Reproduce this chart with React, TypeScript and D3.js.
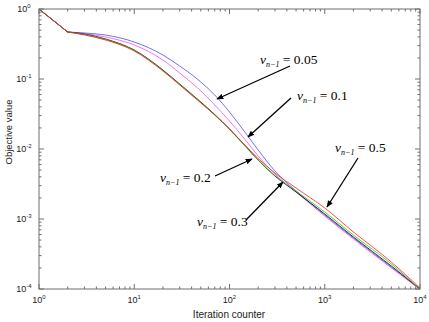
import React from "react";
import * as d3 from "d3";

const iterations = [1, 2, 3, 5, 10, 20, 30, 50, 70, 100, 150, 200, 300, 500, 1000, 2000, 5000, 10000];
const seriesNames = ["0.05", "0.1", "0.2", "0.3", "0.5"];
const seriesColors = ["#4b4bf0", "#f050f0", "#000000", "#1ec81e", "#ff2020"];
const nu005 = [1, 0.4692, 0.4541, 0.425, 0.3377, 0.2202, 0.1533, 0.0906, 0.0591, 0.0338, 0.01638, 0.00968, 0.00485, 0.00251, 0.00114, 0.000535, 0.000206, 0.0001];
const nu01 = [1, 0.4692, 0.4467, 0.3981, 0.3059, 0.1868, 0.1218, 0.0674, 0.0425, 0.0251, 0.013, 0.00794, 0.00439, 0.00243, 0.0011, 0.000518, 0.0002, 0.0000985];
const nu02 = [1, 0.4692, 0.4394, 0.3728, 0.2596, 0.1344, 0.0848, 0.0469, 0.0311, 0.0193, 0.01068, 0.00696, 0.00411, 0.00243, 0.001179, 0.000553, 0.000213, 0.0001];
const nu03 = [1, 0.4692, 0.4322, 0.3667, 0.2554, 0.1322, 0.0834, 0.0462, 0.0306, 0.019, 0.0105, 0.00696, 0.00418, 0.00251, 0.001259, 0.00059, 0.000228, 0.000099];
const nu05 = [1, 0.4692, 0.425, 0.3606, 0.2512, 0.1301, 0.0821, 0.0454, 0.0306, 0.0193, 0.01086, 0.00732, 0.00454, 0.00277, 0.001436, 0.000652, 0.000243, 0.000103];
const seriesValues = [nu005, nu01, nu02, nu03, nu05];
const xTickExps = [0, 1, 2, 3, 4];
const yTickExps = [0, -1, -2, -3, -4];
const annLabels = ["0.05", "0.1", "0.2", "0.3", "0.5"];

const W = 429, H = 322;
const L = 39, R = 420, T = 9, B = 289;

export default function App() {
  const x = d3.scaleLog().domain([1, 1e4]).range([L, R]);
  const y = d3.scaleLog().domain([1e-4, 1]).range([B, T]);
  const axisColor = "#6e6e6e";

  const xMinor: number[] = [];
  const yMinor: number[] = [];
  for (let e = 0; e < 4; e++) for (let k = 2; k <= 9; k++) xMinor.push(k * Math.pow(10, e));
  for (let e = -4; e < 0; e++) for (let k = 2; k <= 9; k++) yMinor.push(k * Math.pow(10, e));

  const lineFn = d3.line<[number, number]>().x(d => x(d[0])).y(d => y(d[1])).curve(d3.curveMonotoneX);
  const straight = d3.line<[number, number]>().x(d => x(d[0])).y(d => y(d[1]));

  const arrows = [
    { from: [290, 66], to: [217, 99] },
    { from: [291, 98], to: [248, 137] },
    { from: [215, 176], to: [252, 159] },
    { from: [246, 220], to: [283, 182] },
    { from: [358, 158], to: [327, 207] },
  ];
  const textPos = [
    [260, 64], [297, 100], [160, 182], [197, 226], [335, 152],
  ];

  return (
    <svg width={W} height={H} style={{ position: "absolute", left: 0, top: 0, background: "#fff" }}
      fontFamily="'Liberation Sans', Arial, sans-serif">
      <rect x={0} y={0} width={W} height={H} fill="#fff" />
      {seriesValues.map((vals, i) => {
        const pts = iterations.map((it, j) => [it, vals[j]] as [number, number]);
        return (
          <g key={seriesNames[i]}>
            <path d={straight(pts.slice(0, 2)) || ""} fill="none" stroke={seriesColors[i]} strokeWidth={0.8} />
            <path d={lineFn(pts.slice(1)) || ""} fill="none" stroke={seriesColors[i]} strokeWidth={0.8} />
          </g>
        );
      })}
      <rect x={L} y={T} width={R - L} height={B - T} fill="none" stroke={axisColor} strokeWidth={1} />
      {xTickExps.map(e => {
        const px = x(Math.pow(10, e));
        return (
          <g key={"xt" + e}>
            <line x1={px} x2={px} y1={B} y2={B - 5} stroke={axisColor} />
            <line x1={px} x2={px} y1={T} y2={T + 5} stroke={axisColor} />
            <text x={px} y={303} fontSize={9} textAnchor="middle" fill="#222">
              10<tspan dy={-4} fontSize={6}>{e}</tspan>
            </text>
          </g>
        );
      })}
      {xMinor.map((v, i) => {
        const px = x(v);
        return (
          <g key={"xm" + i}>
            <line x1={px} x2={px} y1={B} y2={B - 2.5} stroke={axisColor} />
            <line x1={px} x2={px} y1={T} y2={T + 2.5} stroke={axisColor} />
          </g>
        );
      })}
      {yTickExps.map(e => {
        const py = y(Math.pow(10, e));
        return (
          <g key={"yt" + e}>
            <line x1={L} x2={L + 5} y1={py} y2={py} stroke={axisColor} />
            <line x1={R} x2={R - 5} y1={py} y2={py} stroke={axisColor} />
            <text x={24} y={py + 3} fontSize={9} textAnchor="middle" fill="#222">
              10<tspan dy={-4} fontSize={6}>{e}</tspan>
            </text>
          </g>
        );
      })}
      {yMinor.map((v, i) => {
        const py = y(v);
        return (
          <g key={"ym" + i}>
            <line x1={L} x2={L + 2.5} y1={py} y2={py} stroke={axisColor} />
            <line x1={R} x2={R - 2.5} y1={py} y2={py} stroke={axisColor} />
          </g>
        );
      })}
      <text x={229} y={318} fontSize={10} textAnchor="middle" fill="#222">Iteration counter</text>
      <text transform="translate(12,132) rotate(-90)" fontSize={9.5} textAnchor="middle" fill="#222">Objective value</text>
      <defs>
        <marker id="ah" viewBox="0 0 10 10" refX={9} refY={5} markerWidth={7} markerHeight={7} orient="auto" markerUnits="userSpaceOnUse">
          <path d="M0,1 L10,5 L0,9 z" fill="#000" />
        </marker>
      </defs>
      {arrows.map((a, i) => (
        <line key={"ar" + i} x1={a.from[0]} y1={a.from[1]} x2={a.to[0]} y2={a.to[1]} stroke="#000" strokeWidth={1.3} markerEnd="url(#ah)" />
      ))}
      {annLabels.map((lab, i) => (
        <text key={"lab" + i} x={textPos[i][0]} y={textPos[i][1]} fontFamily="'Liberation Serif', 'Times New Roman', serif" fontSize={13.5} fill="#000">
          <tspan fontStyle="italic">ν</tspan>
          <tspan fontStyle="italic" fontSize={8} dy={3}>n−1</tspan>
          <tspan dy={-3}> = {lab}</tspan>
        </text>
      ))}
    </svg>
  );
}
